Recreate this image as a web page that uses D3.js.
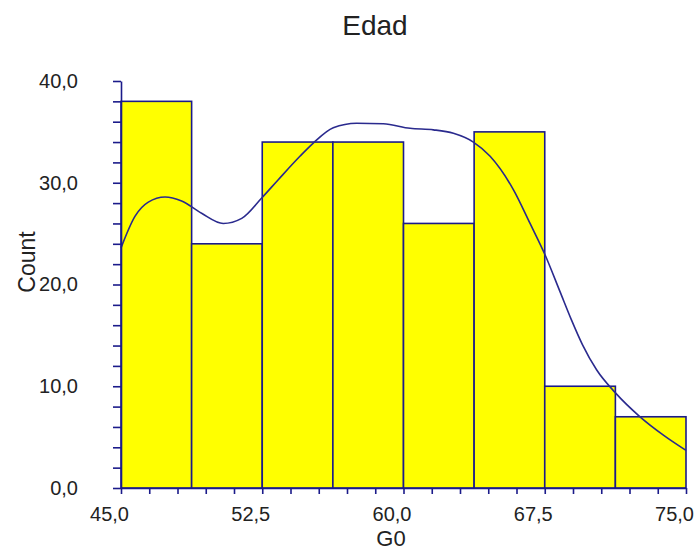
<!DOCTYPE html>
<html>
<head>
<meta charset="utf-8">
<script src="https://cdnjs.cloudflare.com/ajax/libs/d3/7.8.5/d3.min.js"></script>
<style>
  body { margin: 0; background: #fff; }
  text { font-family: "Liberation Sans", Arial, sans-serif; fill: #222; }
</style>
</head>
<body>
<div id="my_dataviz"></div>
<script>
// histogram of Edad with a density curve on top

// bins (left edge, right edge) and counts
var binStart = [45, 48.75, 52.5, 56.25, 60, 63.75, 67.5, 71.25]
var binEnd = [48.75, 52.5, 56.25, 60, 63.75, 67.5, 71.25, 75]
var counts = [38, 24, 34, 34, 26, 35, 10, 7]

// density curve
var curveX = [45.0, 45.74, 46.45, 47.34, 48.22, 49.28, 50.43, 51.41, 52.47, 53.35,
              54.5, 55.21, 56.27, 57.51, 58.93, 60.35, 61.59, 62.65, 63.71, 64.6,
              65.84, 66.72, 67.52, 68.31, 68.9, 69.5, 70.26, 71.23, 72.56, 73.8, 75.0]
var curveY = [23.6, 26.7, 28.1, 28.6, 28.2, 27.0, 26.0, 26.5, 28.5, 30.3,
              32.6, 33.9, 35.4, 35.85, 35.8, 35.35, 35.2, 34.86, 34.0, 32.6,
              29.3, 26.0, 22.9, 19.3, 16.6, 14.1, 11.6, 9.4, 7.0, 5.2, 3.7]

// tick values
var xTicks = [45, 52.5, 60, 67.5, 75]
var yTicks = [0, 10, 20, 30, 40]

var navy = "#1b1b8a"

// set the dimensions and margins of the graph
var margin = {top: 81, right: 13, bottom: 63, left: 121},
width = 699 - margin.left - margin.right,
height = 551 - margin.top - margin.bottom;

var comma = d3.formatLocale({decimal: ",", thousands: ".", grouping: [3], currency: ["", ""]}).format(".1f")

var svg = d3.select("#my_dataviz")
  .append("svg")
    .attr("width", width + margin.left + margin.right)
    .attr("height", height + margin.top + margin.bottom)
  .append("g")
    .attr("transform", "translate(" + margin.left + "," + margin.top + ")");

var x = d3.scaleLinear()
  .domain([45, 75])
  .range([0, width]);

var y = d3.scaleLinear()
  .domain([0, 40])
  .range([height, 0]);

// bars
svg.append("g")
  .selectAll("rect")
  .data(counts)
  .enter()
  .append("rect")
    .attr("x", function (d, i) { return x(binStart[i]); })
    .attr("y", function (d) { return y(d); })
    .attr("width", function (d, i) { return x(binEnd[i]) - x(binStart[i]); })
    .attr("height", function (d) { return height - y(d); })
    .style("fill", "#ffff00")
    .style("stroke", navy)
    .style("stroke-width", 1.6);

// density line
var pts = curveX.map(function (d, i) { return [d, curveY[i]]; })
svg.append("path")
  .datum(pts)
  .attr("fill", "none")
  .attr("stroke", "#2a2a8e")
  .attr("stroke-width", 1.6)
  .attr("d", d3.line()
    .curve(d3.curveMonotoneX)
    .x(function (d) { return x(d[0]); })
    .y(function (d) { return y(d[1]); }));

// Y axis, minor ticks every 2
var yAxis = svg.append("g")
  .call(d3.axisLeft(y)
    .tickValues(d3.range(0, 41, 2))
    .tickSize(8)
    .tickSizeOuter(0)
    .tickPadding(35)
    .tickFormat(function (d) { return yTicks.indexOf(d) >= 0 ? comma(d) : ""; }));

// X axis, minor ticks every 1.5
var xAxis = svg.append("g")
  .attr("transform", "translate(0," + height + ")")
  .call(d3.axisBottom(x)
    .tickValues(d3.range(0, 21).map(function (i) { return 45 + i * 1.5; }))
    .tickSize(6)
    .tickSizeOuter(0)
    .tickPadding(13)
    .tickFormat(function (d) { return xTicks.indexOf(d) >= 0 ? comma(d) : ""; }));

xAxis.selectAll("text").attr("dx", -12);

[xAxis, yAxis].forEach(function (a) {
  a.selectAll("path, line").attr("stroke", navy).attr("stroke-width", 1.6);
  a.selectAll("text").style("font-size", "20px").style("fill", "#222")
    .style("font-family", "'Liberation Sans', Arial, sans-serif");
});

// title and axis labels
svg.append("text")
  .attr("text-anchor", "middle")
  .attr("x", 375 - margin.left)
  .attr("y", 35 - margin.top)
  .style("font-size", "28px")
  .text("Edad");

svg.append("text")
  .attr("text-anchor", "middle")
  .attr("x", 391 - margin.left)
  .attr("y", height + 58)
  .style("font-size", "22px")
  .text("G0");

svg.append("text")
  .attr("text-anchor", "middle")
  .attr("transform", "rotate(-90)")
  .attr("x", -(262 - margin.top))
  .attr("y", 35 - margin.left)
  .style("font-size", "23px")
  .text("Count");
</script>
</body>
</html>
